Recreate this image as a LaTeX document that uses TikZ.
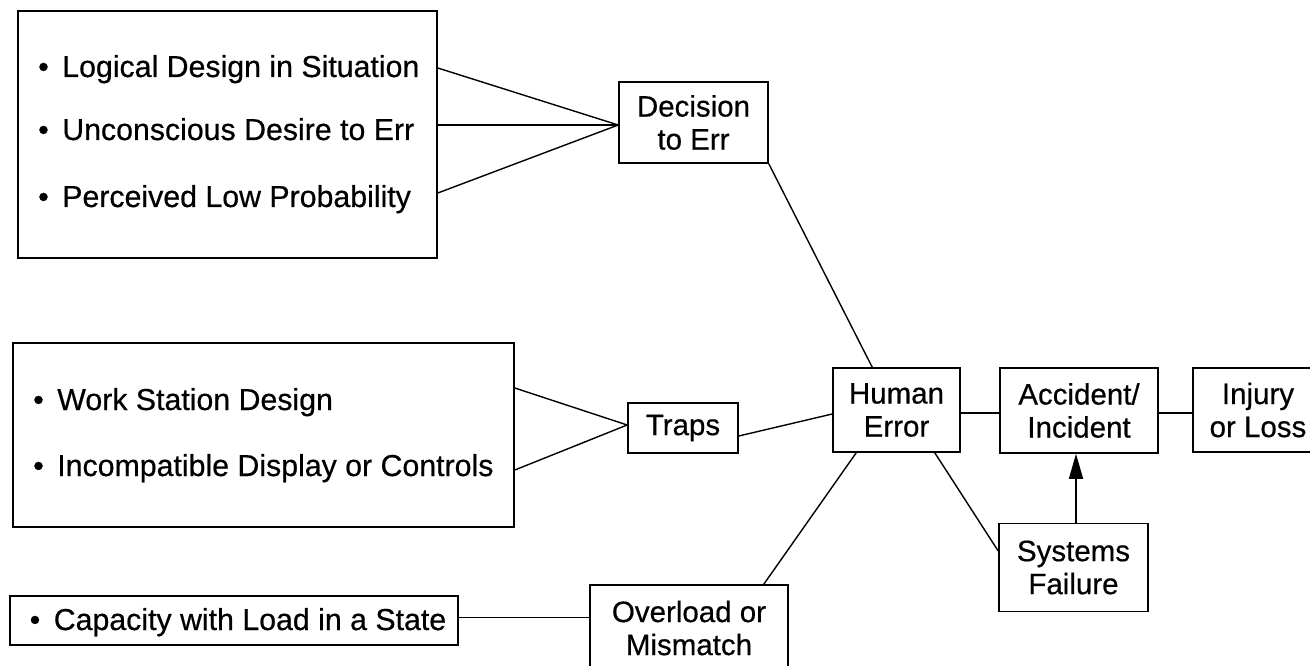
\documentclass[tikz,border=0pt]{standalone}
\usepackage{fontspec}
\setmainfont{Liberation Sans}
\newfontfamily\scanfont{Liberation Sans}[FakeBold=0.5]
\usetikzlibrary{arrows.meta}
\begin{document}
\begin{tikzpicture}[x=1pt,y=-1pt,
  box/.style={draw=black,line width=1.6pt,inner sep=0pt,align=center,
    font=\scanfont\fontsize{29.5}{33}\selectfont},
  item/.style={anchor=base west,inner sep=0pt,font=\scanfont\fontsize{30.3}{33}\selectfont},
  link/.style={draw=black,line width=1.4pt},
  arr/.style={link,-{Triangle[length=25pt,width=14pt]}}]
\clip (0,0) rectangle (1310,666);
\fill[white] (0,0) rectangle (1310,666);
% boxes
\node[box,minimum width=419pt,minimum height=247pt] (tl) at (227.5,134.5) {};
\node[box,minimum width=149pt,minimum height=81pt] (dec) at (693.5,122.5) {Decision\\to Err};
\node[box,minimum width=501pt,minimum height=184pt] (mid) at (263.5,435) {};
\node[box,minimum width=110pt,minimum height=50pt] (traps) at (683,428) {Traps};
\node[box,minimum width=127pt,minimum height=84pt] (he) at (896.5,410) {Human\\Error};
\node[box,minimum width=158pt,minimum height=85pt] (acc) at (1079,410.5) {Accident/\\Incident};
\node[box,minimum width=130pt,minimum height=84pt] (inj) at (1258,410) {Injury\\or Loss};
\node[box,minimum width=149pt,minimum height=88pt] (sys) at (1073.5,567.5) {Systems\\Failure};
\node[box,minimum width=198pt,minimum height=86pt] (ovl) at (689,628) {Overload or\\Mismatch};
\node[box,minimum width=448pt,minimum height=49pt] (cap) at (234,620.5) {};
% bullet items
\node[item] (l1) at (38,77) {•\hspace{13.5pt}Logical Design in Situation};
\node[item] (l2) at (38,140) {•\hspace{13.5pt}Unconscious Desire to Err};
\node[item] (l3) at (38,207) {•\hspace{13.5pt}Perceived Low Probability};
\node[item] (m1) at (33,410) {•\hspace{13.5pt}Work Station Design};
\node[item] (m2) at (33,476) {•\hspace{13.5pt}Incompatible Display or Controls};
\node[item] (c1) at (29.5,630) {•\hspace{13.5pt}Capacity with Load in a State};
% connectors
\draw[link] ([yshift=66.5pt]tl.east) -- ([yshift=-2.5pt]dec.west);
\draw[link] ([yshift=9.5pt]tl.east) -- ([yshift=-2.5pt]dec.west);
\draw[link] ([yshift=-58.5pt]tl.east) -- ([yshift=-2.5pt]dec.west);
\draw[link] ([yshift=47pt]mid.east) -- ([yshift=3pt]traps.west);
\draw[link] ([yshift=-35pt]mid.east) -- ([yshift=3pt]traps.west);
\draw[link] ([yshift=-8pt]traps.east) -- ([yshift=-4pt]he.west);
\draw[link] (dec.south east) -- ([xshift=40pt]he.north west);
\draw[link] ([yshift=-3pt]he.east) -- ([yshift=-2.5pt]acc.west);
\draw[link] ([yshift=-2.5pt]acc.east) -- ([yshift=-3pt]inj.west);
\draw[arr] ([xshift=2.5pt]sys.north) -- ([xshift=2.5pt]sys.north |- acc.south);
\draw[link] ([xshift=-26pt]he.south east) -- ([yshift=16.5pt]sys.west);
\draw[link] ([xshift=24pt]he.south west) -- ([xshift=-25pt]ovl.north east);
\draw[link] ([yshift=3pt]cap.east) -- ([yshift=3pt]cap.east -| ovl.west);
\end{tikzpicture}
\end{document}
